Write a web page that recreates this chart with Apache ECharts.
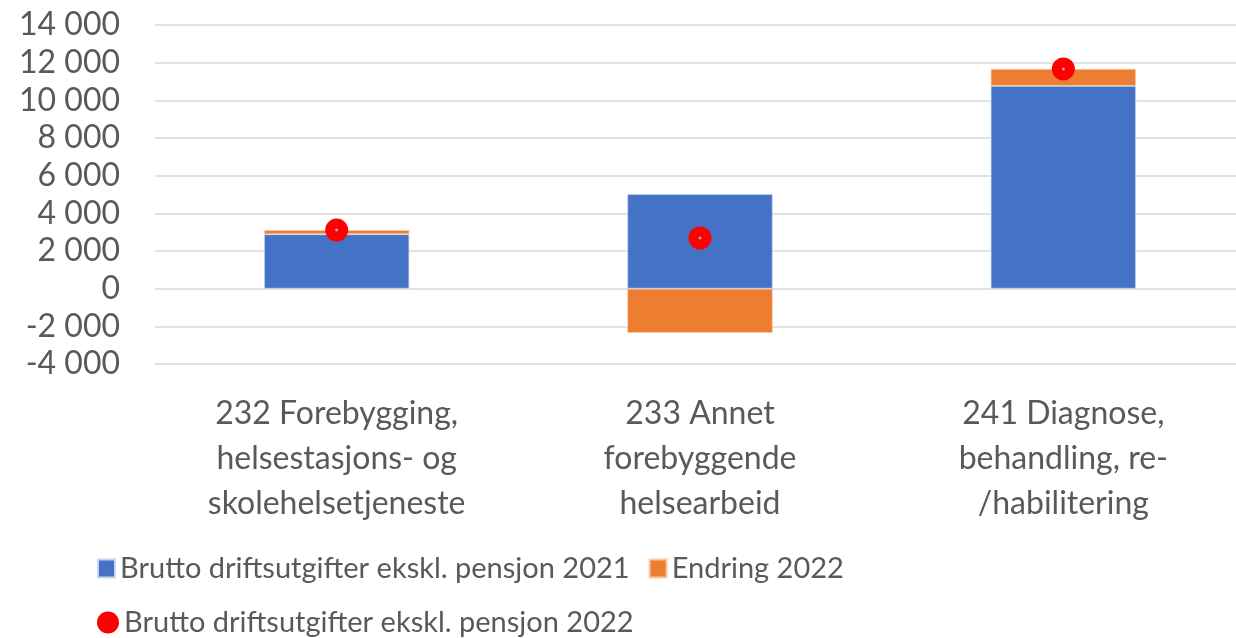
<!DOCTYPE html>
<html>
<head>
<meta charset="utf-8">
<script src="https://cdn.jsdelivr.net/npm/echarts@6/dist/echarts.min.js"></script>
<style>
  html, body { margin: 0; padding: 0; background: #fff; }
  #chart { width: 1236px; height: 638px; }
</style>
</head>
<body>
<div id="chart"></div>
<script>
// data
const categories = [
  '232 Forebygging,\nhelsestasjons- og\nskolehelsetjeneste',
  '233 Annet\nforebyggende\nhelsearbeid',
  '241 Diagnose,\nbehandling, re-\n/habilitering'
]
const brutto2021 = [2890, 5025, 10770]
const endring2022 = [220, -2350, 900]
const brutto2022 = [3110, 2690, 11670]
const yTicks = [-4000, 14000, 2000]

const font = 'Lato'
const grey = '#595959'

const fmt = v => {
  const s = Math.abs(v).toString().replace(/\B(?=(\d{3})+(?!\d))/g, ' ')
  return (v < 0 ? '-' : '') + s
}

const chart = echarts.init(document.getElementById('chart'))
const option = {
  animation: false,
  textStyle: { fontFamily: font },
  grid: {
    left: 155, top: 25, width: 1090, height: 339,
    containLabel: false, outerBoundsMode: 'none'
  },
  legend: [
    {
      data: ['Brutto driftsutgifter ekskl. pensjon 2021', 'Endring 2022'],
      left: 92, top: 549,
      icon: 'rect', itemWidth: 17, itemHeight: 18, itemGap: 19,
      textStyle: { fontSize: 29, color: grey, fontFamily: font }
    },
    {
      data: ['Brutto driftsutgifter ekskl. pensjon 2022'],
      left: 92, top: 603,
      itemWidth: 22, itemHeight: 22, itemGap: 12,
      textStyle: { fontSize: 29, color: grey, fontFamily: font }
    }
  ],
  xAxis: {
    type: 'category',
    data: categories,
    position: 'bottom',
    axisLine: { show: false },
    axisTick: { show: false },
    axisLabel: {
      fontSize: 32, color: grey, lineHeight: 45, margin: 27,
      interval: 0, fontFamily: font
    }
  },
  yAxis: {
    type: 'value',
    min: yTicks[0], max: yTicks[1], interval: yTicks[2],
    axisLine: { show: false },
    axisTick: { show: false },
    splitLine: { lineStyle: { color: '#d9d9d9', width: 1.5 } },
    axisLabel: { fontSize: 32, color: grey, margin: 35, formatter: fmt, fontFamily: font }
  },
  series: [
    {
      name: 'Brutto driftsutgifter ekskl. pensjon 2021',
      type: 'bar', stack: 'total', barWidth: '40%',
      data: brutto2021,
      itemStyle: { color: '#4472C4', borderColor: '#c9d6ee', borderWidth: 0.8 }
    },
    {
      name: 'Endring 2022',
      type: 'bar', stack: 'total',
      data: endring2022,
      itemStyle: { color: '#ED7D31', borderColor: '#f7caa8', borderWidth: 0.8 }
    },
    {
      name: 'Brutto driftsutgifter ekskl. pensjon 2022',
      type: 'scatter', symbol: 'circle', symbolSize: 23,
      data: brutto2022,
      itemStyle: { color: '#FF0000', opacity: 1 },
      z: 5
    },
    {
      // little grey center of the markers
      name: 'center',
      type: 'scatter', symbol: 'circle', symbolSize: 3,
      data: brutto2022,
      itemStyle: { color: '#b0b0b0', opacity: 1 },
      silent: true,
      z: 6
    }
  ]
}
chart.setOption(option)
</script>
</body>
</html>
